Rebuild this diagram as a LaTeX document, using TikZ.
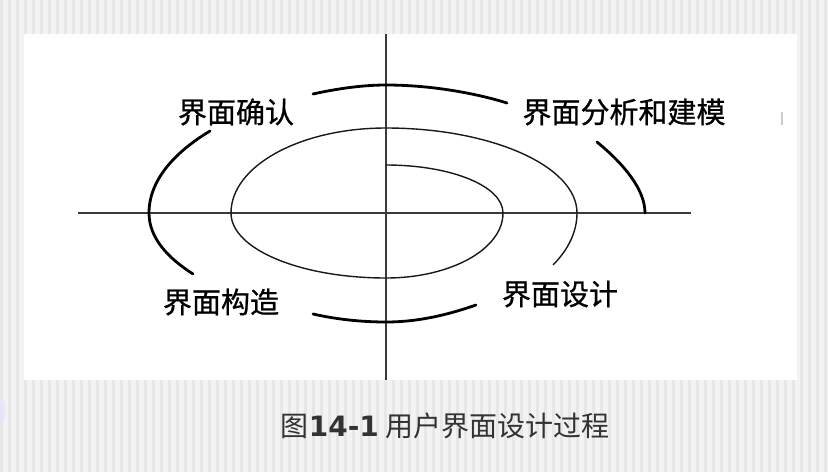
\documentclass[tikz,border=0pt]{standalone}
\usepackage{fontspec}
\newfontfamily\cjk{Noto Sans CJK SC}
\newfontfamily\cjkb{Noto Sans CJK SC}[FakeBold=0.8]
\newfontfamily\latinf{DejaVu Sans}
\definecolor{bgbase}{HTML}{F3F3F3}
\definecolor{bgstripe}{HTML}{E7E7E7}
\definecolor{axiscol}{HTML}{3A3A3A}
\definecolor{capcol}{HTML}{333333}
\tikzset{
  thinline/.style={line width=1.4pt, black!90},
  thickline/.style={line width=2.8pt, black, line cap=round},
  axisline/.style={line width=1.3pt, axiscol},
  lbl/.style={font=\cjkb\fontsize{29}{32}\selectfont, inner sep=0pt, text=black},
}
\begin{document}
\begin{tikzpicture}[x=1pt,y=-1pt]
\useasboundingbox (0,0) rectangle (828,472);
% background
\fill[bgbase] (0,0) rectangle (828,472);
\foreach \i in {0,8,...,824} { \fill[bgstripe] (\i,0) rectangle ++(3,472); }
\fill[blue!10, opacity=0.7] (0,410) ellipse (6 and 14);
% white panel
\fill[white] (24,34) rectangle (797,380);
% axes
\coordinate (vtop) at (386,34);
\coordinate (vbot) at (386,380);
\coordinate (hl) at (78,213);
\coordinate (hr) at (691,213);
\draw[axisline] (vtop) -- (vbot);
\draw[axisline] (hl) -- (hr);
% spiral
\draw[thinline] (386,165) .. controls (451,165) and (503,186) .. (503,213)
  .. controls (503,249) and (451,278) .. (386,278)
  .. controls (300,278) and (231,249) .. (231,213)
  .. controls (231,166) and (300,128) .. (386,128)
  .. controls (491,128) and (577,166) .. (577,213)
  .. controls (577,232) and (568,250) .. (553,265);
% thick arcs
\draw[thickline] (313,94) .. controls (340,88) and (365,85) .. (386,85)
  .. controls (430,85) and (475,93) .. (507,103);
\draw[thickline] (597,142) .. controls (625,165) and (645,190) .. (645,213);
\draw[thickline] (210,131) .. controls (175,152) and (149,180) .. (149,213)
  .. controls (149,238) and (168,258) .. (193,274);
\draw[thickline] (313,314) .. controls (335,319) and (360,322) .. (386,322)
  .. controls (420,322) and (450,314) .. (476,305);
% small gray tick
\draw[line width=1.5pt, black!20] (782,112) -- (782,125);
% labels
\node[lbl] (confirm) at (236,112) {界面确认};
\node[lbl] (analysis) at (624,112) {界面分析和建模};
\node[lbl] (build) at (221,302) {界面构造};
\node[lbl] (design) at (560,294) {界面设计};
% caption
\node[inner sep=0pt, text=capcol, font=\cjk\fontsize{28}{32}\selectfont] (caption) at (445,426)
  {图{\latinf\bfseries 14-1} 用户界面设计过程};
\end{tikzpicture}
\end{document}
